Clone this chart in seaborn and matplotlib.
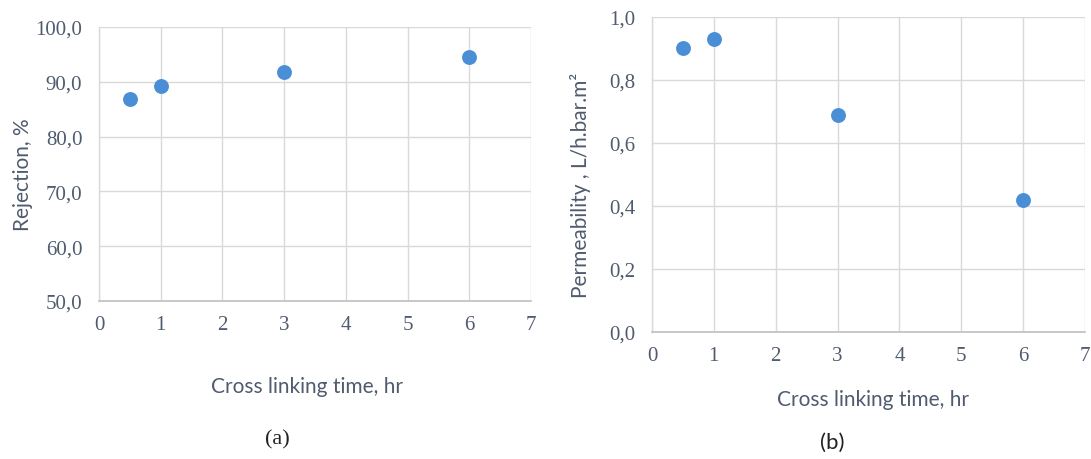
import matplotlib
matplotlib.use("Agg")
import matplotlib.pyplot as plt
import seaborn as sns
import pandas as pd
from matplotlib.ticker import FixedLocator, FixedFormatter

# Cross-linking experiment results
time_hr = [0.5, 1, 3, 6]
rejection_pct = [86.9, 89.3, 91.7, 94.5]
permeability = [0.902, 0.931, 0.690, 0.419]

x_ticks = [0, 1, 2, 3, 4, 5, 6, 7]
rej_ticks = [50, 60, 70, 80, 90, 100]
rej_labels = ["50,0", "60,0", "70,0", "80,0", "90,0", "100,0"]
perm_ticks = [0.0, 0.2, 0.4, 0.6, 0.8, 1.0]
perm_labels = ["0,0", "0,2", "0,4", "0,6", "0,8", "1,0"]

sns.set_theme(style="white")
plt.rcParams["font.family"] = ["Liberation Serif", "DejaVu Serif"]

TEXT = "#4F5B6E"
GRID = "#D9D9D9"
AXIS = "#BFBFBF"
POINT = "#4A8FD6"
SANS = ["Lato", "DejaVu Sans"]

df = pd.DataFrame({"time": time_hr, "rej": rejection_pct, "perm": permeability})

fig = plt.figure(figsize=(10.91, 4.60), dpi=100)
ax1 = fig.add_axes([0.0907, 0.3435, 0.396, 0.5957])
ax2 = fig.add_axes([0.5976, 0.276, 0.397, 0.685])


def style(ax, yticks, ylabels, ylim):
    ax.set_xlim(0, 7)
    ax.set_ylim(*ylim)
    ax.xaxis.set_major_locator(FixedLocator(x_ticks))
    ax.set_xticklabels([str(t) for t in x_ticks])
    ax.yaxis.set_major_locator(FixedLocator(yticks))
    ax.yaxis.set_major_formatter(FixedFormatter(ylabels))
    ax.grid(True, color=GRID, linewidth=1.0)
    ax.set_axisbelow(True)
    for s in ["top", "right"]:
        ax.spines[s].set_visible(False)
    ax.spines["left"].set_color(GRID)
    ax.spines["bottom"].set_color(AXIS)
    ax.spines["left"].set_linewidth(1.0)
    ax.spines["bottom"].set_linewidth(1.2)
    ax.tick_params(axis="x", length=0, labelsize=15, colors=TEXT, pad=10)
    ax.tick_params(axis="y", length=0, labelsize=15, colors=TEXT, pad=12)


sns.scatterplot(data=df, x="time", y="rej", ax=ax1, s=115, color=POINT,
                edgecolor=POINT, linewidth=0, zorder=3, clip_on=False)
style(ax1, rej_ticks, rej_labels, (50, 100))
ax1.set_xlabel("Cross linking time, hr", family=SANS, fontsize=15, color=TEXT, va="center")
ax1.set_ylabel("Rejection, %", family=SANS, fontsize=15, color=TEXT, va="center")
ax1.xaxis.set_label_coords(0.481, -0.31)
ax1.yaxis.set_label_coords(-0.176, 0.464)

sns.scatterplot(data=df, x="time", y="perm", ax=ax2, s=115, color=POINT,
                edgecolor=POINT, linewidth=0, zorder=3, clip_on=False)
style(ax2, perm_ticks, perm_labels, (0, 1.0))
ax2.set_xlabel("Cross linking time, hr", family=SANS, fontsize=15, color=TEXT, va="center")
ax2.set_ylabel("Permeability , L/h.bar.m²", family=SANS, fontsize=15, color=TEXT, va="center")
ax2.xaxis.set_label_coords(0.510, -0.213)
ax2.yaxis.set_label_coords(-0.166, 0.470)

fig.text(277 / 1091, 1 - 440 / 460, "(a)", ha="center", va="center",
         fontsize=16, color="#222222")
fig.text(832 / 1091, 1 - 443 / 460, "(b)", ha="center", va="center",
         fontsize=16, color="#222222", family=SANS)

fig.savefig("out.png", dpi=100, facecolor="white")
